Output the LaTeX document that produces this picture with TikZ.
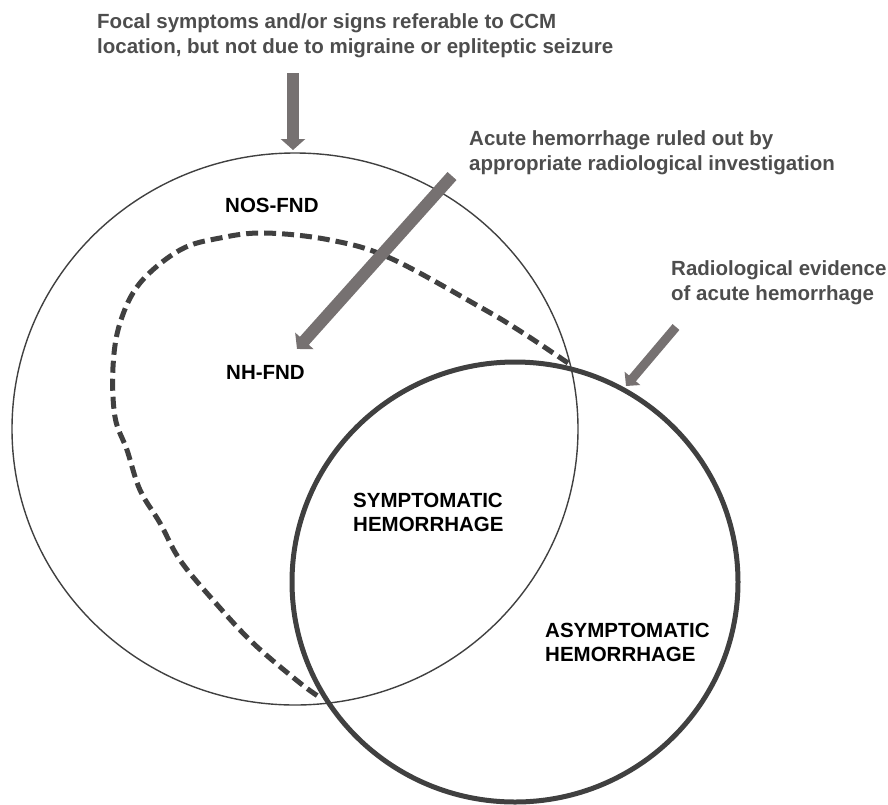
\documentclass[tikz,border=0pt]{standalone}
\usepackage{fontspec}
\setmainfont{Liberation Sans}
\usetikzlibrary{arrows.meta}
\definecolor{arrowgray}{RGB}{118,113,113}
\definecolor{linegray}{RGB}{64,64,64}
\definecolor{textgray}{RGB}{77,77,77}
\begin{document}
\begin{tikzpicture}[x=1pt,y=-1pt,
  note/.style={font=\fontsize{20.5}{25}\selectfont\bfseries, text=textgray, inner sep=0pt, anchor=base west, align=left},
  lbl/.style={font=\fontsize{20.5}{24}\selectfont\bfseries, text=black, inner sep=0pt, anchor=base west, align=left},
  bigarrow/.style={draw=arrowgray, line width=12pt, -{Triangle[width=24pt,length=11pt]}},
  smallarrow/.style={draw=arrowgray, line width=9pt, -{Triangle[width=20pt,length=10pt]}},
  thinset/.style={draw=linegray, line width=1.4pt},
  thickset/.style={draw=linegray, line width=5pt},
  dashset/.style={draw=linegray, line width=5pt, dash pattern=on 12pt off 6pt}]
\useasboundingbox (0,0) rectangle (888,804);
% sets
\draw[thinset] (295,429) ellipse [x radius=283pt, y radius=276pt];
\draw[thickset] (515,582) ellipse [x radius=223pt, y radius=220pt];
\draw[dashset] plot[smooth, tension=0.6] coordinates {(568,363) (520,331) (480,307) (390,258) (330,240) (265,233) (220,238) (180,250) (140,283) (120,323) (113,367) (115,417) (127,450) (140,490) (160,523) (180,560) (213,600) (253,643) (300,683) (321,698)};
% texts (anchor = baseline of last line)
\node[note] (focal) at (97,53) {Focal symptoms and/or signs referable to CCM\\location, but not due to migraine or epliteptic seizure};
\node[note] (acute) at (469,170) {Acute hemorrhage ruled out by\\appropriate radiological investigation};
\node[note] (radio) at (671,300) {Radiological evidence\\of acute hemorrhage};
\node[lbl] (nos) at (225,212) {NOS-FND};
\node[lbl] (nh) at (226,379) {NH-FND};
\node[lbl] (sym) at (353,531) {SYMPTOMATIC\\HEMORRHAGE};
\node[lbl] (asym) at (545,661) {ASYMPTOMATIC\\HEMORRHAGE};
% arrows
\coordinate (a1s) at (293,73);
\coordinate (a1e) at (293,150);
\coordinate (a2s) at (452,176);
\coordinate (a2e) at (297,349);
\coordinate (a3s) at (676,327);
\coordinate (a3e) at (626,386);
\draw[bigarrow] (a1s) -- (a1e);
\draw[bigarrow] (a2s) -- (a2e);
\draw[smallarrow] (a3s) -- (a3e);
\end{tikzpicture}
\end{document}
